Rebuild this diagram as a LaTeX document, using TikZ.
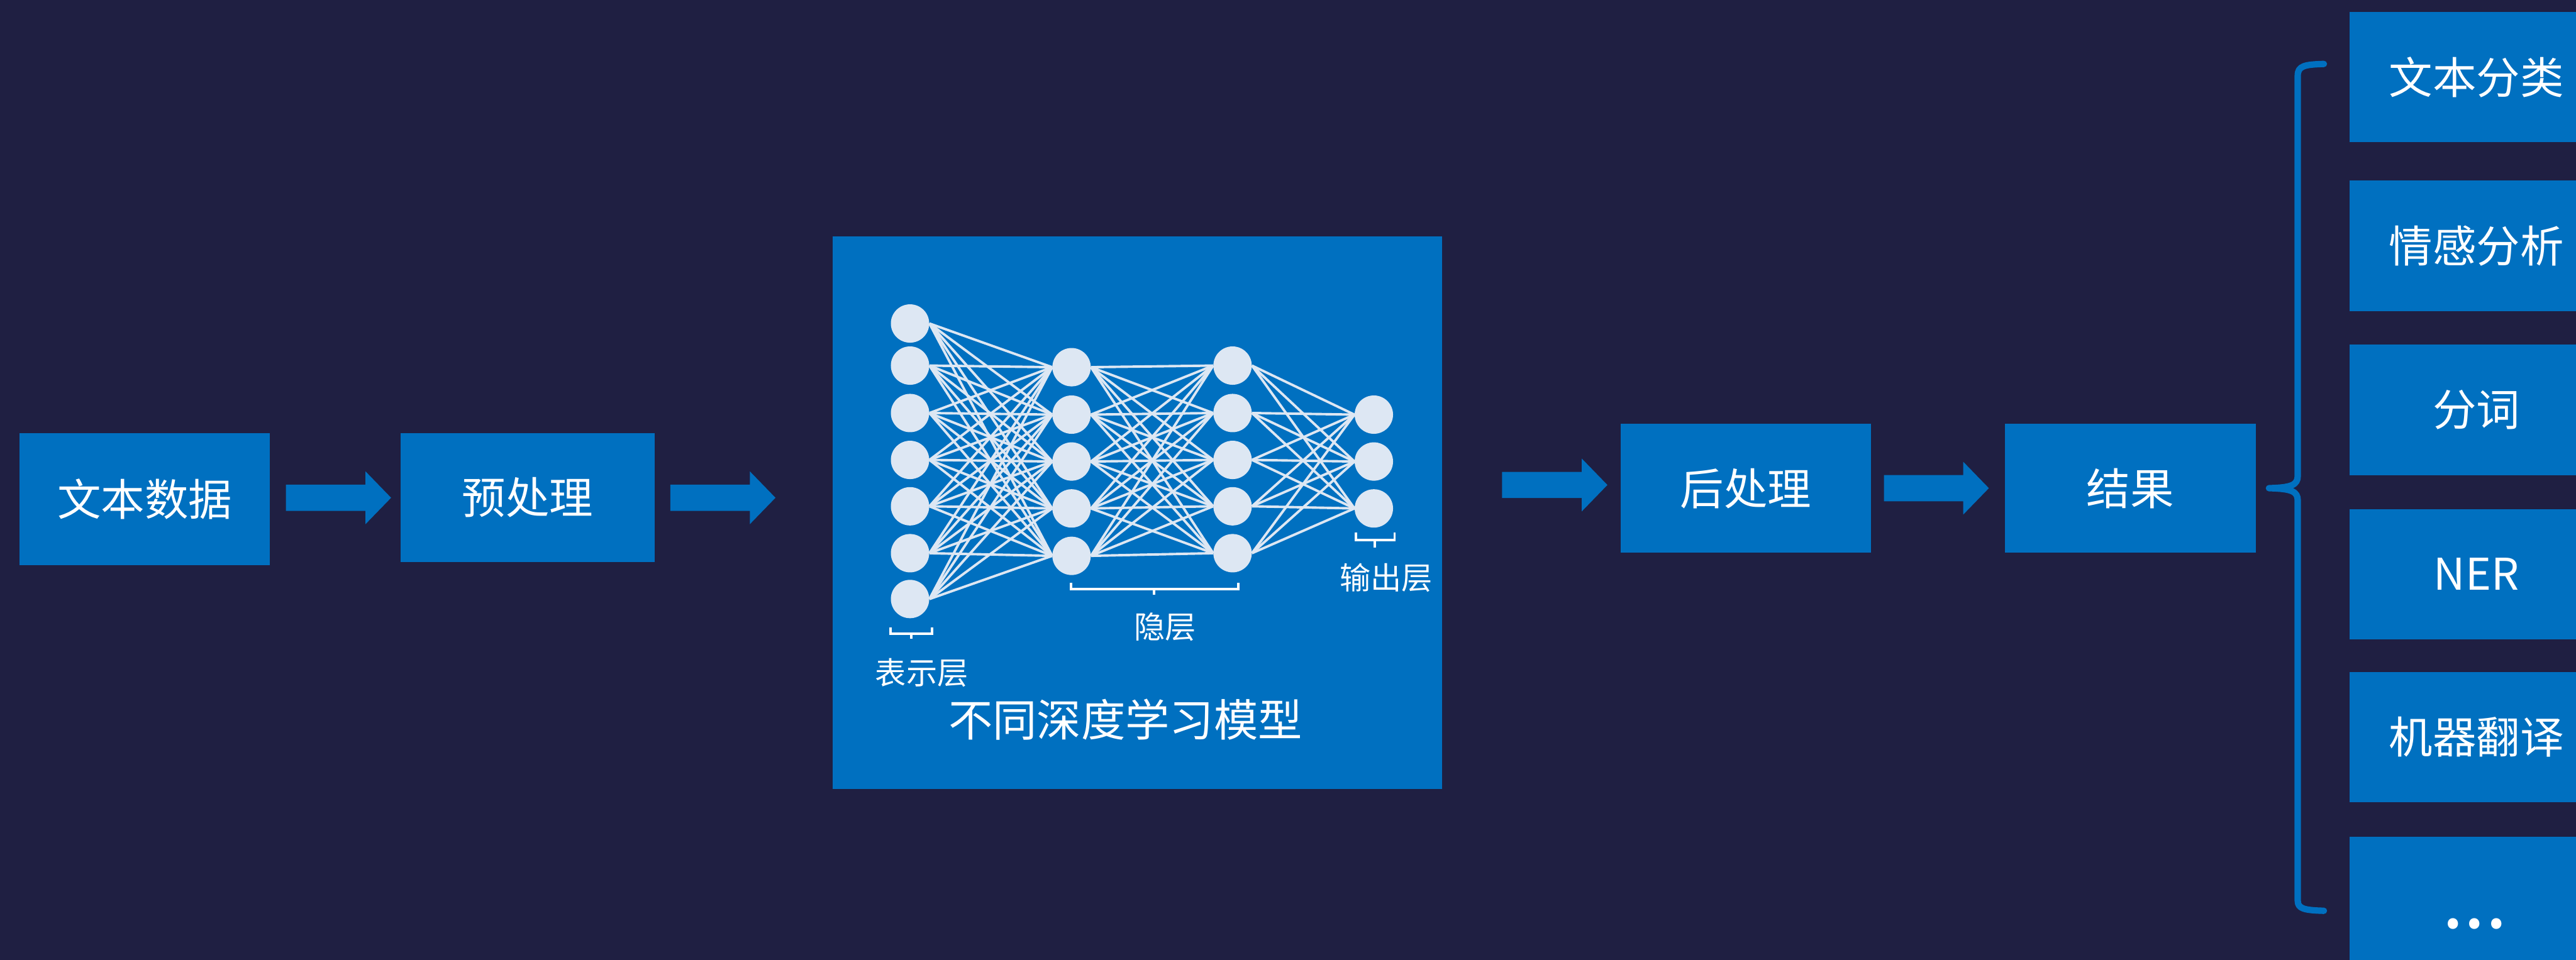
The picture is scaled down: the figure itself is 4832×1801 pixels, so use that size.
\documentclass[tikz,border=0pt]{standalone}
\usepackage{fontspec}
\setmainfont{Noto Sans CJK SC}
\usetikzlibrary{calc}
\definecolor{bg}{HTML}{1F1F42}
\definecolor{blu}{HTML}{0070C0}
\definecolor{neuron}{HTML}{DDE7F3}

% block arrow from #1 (tail, middle of shaft) to #2 (tip)
\newcommand\flowarrow[2]{%
  \fill[blu] let \p1=#1, \p2=#2 in
    (\x1,\y1+12.25pt) -- (\x2-24pt,\y1+12.25pt) -- (\x2-24pt,\y1+24.75pt) --
    (\x2,\y1) -- (\x2-24pt,\y1-24.75pt) -- (\x2-24pt,\y1-12.25pt) --
    (\x1,\y1-12.25pt) -- cycle;}

\begin{document}
\begin{tikzpicture}[x=0.5pt,y=-0.5pt,
  box/.style={fill=blu, text=white, inner sep=0pt,
    font=\fontsize{41pt}{41pt}\selectfont},
  stagebox/.style={box, minimum width=235pt, minimum height=121pt},
  taskbox/.style={box, minimum width=238pt, minimum height=122.5pt},
  neuronnode/.style={circle, fill=neuron, inner sep=0pt, minimum size=36pt},
  edge/.style={draw=neuron, line width=2.3pt},
  bracket/.style={draw=white, line width=2.2pt},
  smalllbl/.style={text=white, inner sep=0pt, font=\fontsize{29pt}{29pt}\selectfont},
  biglbl/.style={text=white, inner sep=0pt, font=\fontsize{41.5pt}{41.5pt}\selectfont}
]
\useasboundingbox (0,0) rectangle (4832,1801);
\fill[bg] (0,0) rectangle (4832,1801);
\clip (0,0) rectangle (4832,1801);

% pipeline stages
\node[stagebox, minimum width=234.5pt, minimum height=123.5pt] (data) at (271.5,936.5) {文本数据};
\node[stagebox, minimum width=238pt] (pre) at (990,933.5) {预处理};
\node[box, minimum width=571.5pt, minimum height=518pt] (model) at (2133.5,962) {};
\node[stagebox] (post) at (3274.5,916.5) {后处理};
\node[stagebox] (res) at (3996,916.5) {结果};

% arrows between stages
\flowarrow{($(data.east)+(30,-2.5)$)}{($(pre.west)+(-18,0.5)$)}
\flowarrow{($(pre.east)+(29,0.5)$)}{($(model.west)+(-107,-28)$)}
\flowarrow{($(model.east)+(112,-52)$)}{($(post.west)+(-24,-6.5)$)}
\flowarrow{($(post.east)+(24,-0.5)$)}{($(res.west)+(-30,-0.5)$)}

% task boxes on the right
\node[taskbox] (t1) at (4645,144.5) {文本分类};
\node[taskbox] (t2) at (4645,461.5) {情感分析};
\node[taskbox] (t3) at (4645,769.5) {分词};
\node[taskbox] (t4) at (4645,1077.5) {NER};
\node[taskbox] (t5) at (4645,1383) {机器翻译};
\node[taskbox] (t6) at (4645,1692.5) {};
\node[text=white, inner sep=0pt, anchor=base, font=\fontsize{73pt}{73pt}\selectfont]
  (dots) at (4642,1741.5) {...};

% curly brace gathering the tasks
\draw[blu, line width=6pt, line cap=round, line join=round]
  (4359,120) .. controls (4322,121) and (4310,124) .. (4310,142)
  -- (4310,893) .. controls (4310,910) and (4298,915) .. (4256,916)
  .. controls (4298,917) and (4310,922) .. (4310,939)
  -- (4310,1690) .. controls (4310,1705) and (4322,1708) .. (4359,1709);

% neural network inside the model box
\foreach \i/\y in {1/607,2/686,3/775,4/863,5/950,6/1038,7/1124}
  \node[neuronnode] (a\i) at (1707,\y) {};
\foreach \i/\y in {1/689,2/778,3/866,4/954,5/1043}
  \node[neuronnode] (b\i) at (2010,\y) {};
\foreach \i/\y in {1/686,2/775,3/863,4/950,5/1038}
  \node[neuronnode] (c\i) at (2312,\y) {};
\foreach \i/\y in {1/778,2/866,3/954}
  \node[neuronnode] (d\i) at (2577,\y) {};

\foreach \i in {1,...,7}
  \foreach \j in {1,...,5}
    \draw[edge] (a\i.east) -- (b\j.west);
\foreach \i in {1,...,5}
  \foreach \j in {1,...,5}
    \draw[edge] (b\i.east) -- (c\j.west);
\foreach \i in {1,...,5}
  \foreach \j in {1,...,3}
    \draw[edge] (c\i.east) -- (d\j.west);

% layer brackets and labels
\draw[bracket] (1670,1177) -- (1670,1189) -- (1748,1189) -- (1748,1177)
  (1709,1189) -- (1709,1198);
\draw[bracket] (2009,1093) -- (2009,1105) -- (2323,1105) -- (2323,1093)
  (2165,1105) -- (2165,1116);
\draw[bracket] (2543,999) -- (2543,1013) -- (2616,1013) -- (2616,999)
  (2579,1013) -- (2579,1028);

\node[smalllbl] (lblin) at (1729,1262) {表示层};
\node[smalllbl] (lblhid) at (2185,1176) {隐层};
\node[smalllbl] (lblout) at (2600,1084) {输出层};
\node[biglbl] (lblmodel) at (2111,1350) {不同深度学习模型};
\end{tikzpicture}
\end{document}
